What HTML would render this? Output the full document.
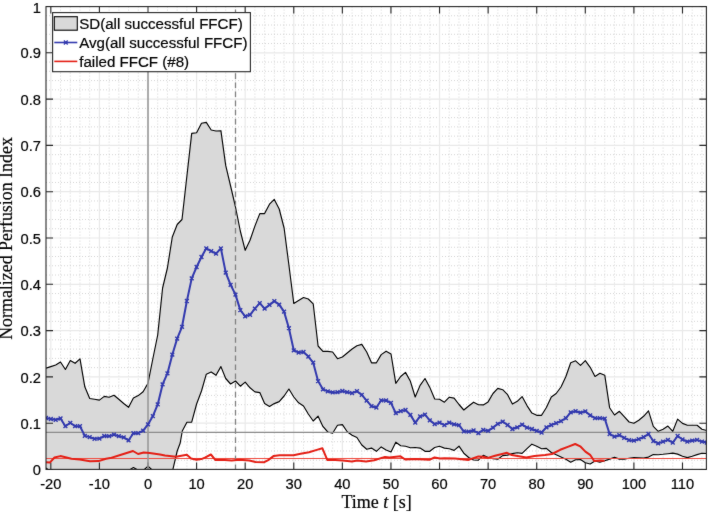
<!DOCTYPE html><html><head><meta charset="utf-8"><style>html,body{margin:0;padding:0;background:#fff;}body{width:709px;height:512px;overflow:hidden;position:relative;}#w{position:absolute;left:0;top:0;width:709px;height:512px;}svg{display:block;}text{font-family:"Liberation Sans",sans-serif;stroke:#000;stroke-width:0.2px;}.tl{font-size:14.7px;fill:#000;}.lg{font-size:15.1px;fill:#000;}.serif{font-family:"Liberation Serif",serif;}</style></head><body>
<div id="w"><svg width="709" height="512" viewBox="0 0 709 512">
<defs><filter id="bl" x="0" y="0" width="1" height="1" color-interpolation-filters="sRGB"><feConvolveMatrix order="3" kernelMatrix="1 2 1 2 36 2 1 2 1" edgeMode="duplicate"/></filter><clipPath id="ax"><rect x="46" y="6.6" width="660.4" height="462.8"/></clipPath></defs>
<g filter="url(#bl)"><rect width="709" height="512" fill="#fff"/>
<g style="stroke-width:1">
<style>.mn{stroke:#cacaca;stroke-dasharray:1 2;stroke-width:0.8}.mj{stroke:#e9e9e9;stroke-width:1.2}</style>
<line x1="60.54" y1="6.6" x2="60.54" y2="469.4" class="mn"/>
<line x1="70.26" y1="6.6" x2="70.26" y2="469.4" class="mn"/>
<line x1="79.97" y1="6.6" x2="79.97" y2="469.4" class="mn"/>
<line x1="89.69" y1="6.6" x2="89.69" y2="469.4" class="mn"/>
<line x1="109.13" y1="6.6" x2="109.13" y2="469.4" class="mn"/>
<line x1="118.85" y1="6.6" x2="118.85" y2="469.4" class="mn"/>
<line x1="128.56" y1="6.6" x2="128.56" y2="469.4" class="mn"/>
<line x1="138.28" y1="6.6" x2="138.28" y2="469.4" class="mn"/>
<line x1="157.72" y1="6.6" x2="157.72" y2="469.4" class="mn"/>
<line x1="167.44" y1="6.6" x2="167.44" y2="469.4" class="mn"/>
<line x1="177.15" y1="6.6" x2="177.15" y2="469.4" class="mn"/>
<line x1="186.87" y1="6.6" x2="186.87" y2="469.4" class="mn"/>
<line x1="206.31" y1="6.6" x2="206.31" y2="469.4" class="mn"/>
<line x1="216.03" y1="6.6" x2="216.03" y2="469.4" class="mn"/>
<line x1="225.74" y1="6.6" x2="225.74" y2="469.4" class="mn"/>
<line x1="235.46" y1="6.6" x2="235.46" y2="469.4" class="mn"/>
<line x1="254.9" y1="6.6" x2="254.9" y2="469.4" class="mn"/>
<line x1="264.62" y1="6.6" x2="264.62" y2="469.4" class="mn"/>
<line x1="274.33" y1="6.6" x2="274.33" y2="469.4" class="mn"/>
<line x1="284.05" y1="6.6" x2="284.05" y2="469.4" class="mn"/>
<line x1="303.49" y1="6.6" x2="303.49" y2="469.4" class="mn"/>
<line x1="313.21" y1="6.6" x2="313.21" y2="469.4" class="mn"/>
<line x1="322.92" y1="6.6" x2="322.92" y2="469.4" class="mn"/>
<line x1="332.64" y1="6.6" x2="332.64" y2="469.4" class="mn"/>
<line x1="352.08" y1="6.6" x2="352.08" y2="469.4" class="mn"/>
<line x1="361.8" y1="6.6" x2="361.8" y2="469.4" class="mn"/>
<line x1="371.51" y1="6.6" x2="371.51" y2="469.4" class="mn"/>
<line x1="381.23" y1="6.6" x2="381.23" y2="469.4" class="mn"/>
<line x1="400.67" y1="6.6" x2="400.67" y2="469.4" class="mn"/>
<line x1="410.39" y1="6.6" x2="410.39" y2="469.4" class="mn"/>
<line x1="420.1" y1="6.6" x2="420.1" y2="469.4" class="mn"/>
<line x1="429.82" y1="6.6" x2="429.82" y2="469.4" class="mn"/>
<line x1="449.26" y1="6.6" x2="449.26" y2="469.4" class="mn"/>
<line x1="458.98" y1="6.6" x2="458.98" y2="469.4" class="mn"/>
<line x1="468.69" y1="6.6" x2="468.69" y2="469.4" class="mn"/>
<line x1="478.41" y1="6.6" x2="478.41" y2="469.4" class="mn"/>
<line x1="497.85" y1="6.6" x2="497.85" y2="469.4" class="mn"/>
<line x1="507.57" y1="6.6" x2="507.57" y2="469.4" class="mn"/>
<line x1="517.28" y1="6.6" x2="517.28" y2="469.4" class="mn"/>
<line x1="527" y1="6.6" x2="527" y2="469.4" class="mn"/>
<line x1="546.44" y1="6.6" x2="546.44" y2="469.4" class="mn"/>
<line x1="556.16" y1="6.6" x2="556.16" y2="469.4" class="mn"/>
<line x1="565.87" y1="6.6" x2="565.87" y2="469.4" class="mn"/>
<line x1="575.59" y1="6.6" x2="575.59" y2="469.4" class="mn"/>
<line x1="595.03" y1="6.6" x2="595.03" y2="469.4" class="mn"/>
<line x1="604.75" y1="6.6" x2="604.75" y2="469.4" class="mn"/>
<line x1="614.46" y1="6.6" x2="614.46" y2="469.4" class="mn"/>
<line x1="624.18" y1="6.6" x2="624.18" y2="469.4" class="mn"/>
<line x1="643.62" y1="6.6" x2="643.62" y2="469.4" class="mn"/>
<line x1="653.34" y1="6.6" x2="653.34" y2="469.4" class="mn"/>
<line x1="663.05" y1="6.6" x2="663.05" y2="469.4" class="mn"/>
<line x1="672.77" y1="6.6" x2="672.77" y2="469.4" class="mn"/>
<line x1="692.21" y1="6.6" x2="692.21" y2="469.4" class="mn"/>
<line x1="701.93" y1="6.6" x2="701.93" y2="469.4" class="mn"/>
<line x1="46" y1="460.24" x2="706.4" y2="460.24" class="mn"/>
<line x1="46" y1="450.98" x2="706.4" y2="450.98" class="mn"/>
<line x1="46" y1="441.72" x2="706.4" y2="441.72" class="mn"/>
<line x1="46" y1="432.46" x2="706.4" y2="432.46" class="mn"/>
<line x1="46" y1="413.94" x2="706.4" y2="413.94" class="mn"/>
<line x1="46" y1="404.68" x2="706.4" y2="404.68" class="mn"/>
<line x1="46" y1="395.42" x2="706.4" y2="395.42" class="mn"/>
<line x1="46" y1="386.16" x2="706.4" y2="386.16" class="mn"/>
<line x1="46" y1="367.64" x2="706.4" y2="367.64" class="mn"/>
<line x1="46" y1="358.38" x2="706.4" y2="358.38" class="mn"/>
<line x1="46" y1="349.12" x2="706.4" y2="349.12" class="mn"/>
<line x1="46" y1="339.86" x2="706.4" y2="339.86" class="mn"/>
<line x1="46" y1="321.34" x2="706.4" y2="321.34" class="mn"/>
<line x1="46" y1="312.08" x2="706.4" y2="312.08" class="mn"/>
<line x1="46" y1="302.82" x2="706.4" y2="302.82" class="mn"/>
<line x1="46" y1="293.56" x2="706.4" y2="293.56" class="mn"/>
<line x1="46" y1="275.04" x2="706.4" y2="275.04" class="mn"/>
<line x1="46" y1="265.78" x2="706.4" y2="265.78" class="mn"/>
<line x1="46" y1="256.52" x2="706.4" y2="256.52" class="mn"/>
<line x1="46" y1="247.26" x2="706.4" y2="247.26" class="mn"/>
<line x1="46" y1="228.74" x2="706.4" y2="228.74" class="mn"/>
<line x1="46" y1="219.48" x2="706.4" y2="219.48" class="mn"/>
<line x1="46" y1="210.22" x2="706.4" y2="210.22" class="mn"/>
<line x1="46" y1="200.96" x2="706.4" y2="200.96" class="mn"/>
<line x1="46" y1="182.44" x2="706.4" y2="182.44" class="mn"/>
<line x1="46" y1="173.18" x2="706.4" y2="173.18" class="mn"/>
<line x1="46" y1="163.92" x2="706.4" y2="163.92" class="mn"/>
<line x1="46" y1="154.66" x2="706.4" y2="154.66" class="mn"/>
<line x1="46" y1="136.14" x2="706.4" y2="136.14" class="mn"/>
<line x1="46" y1="126.88" x2="706.4" y2="126.88" class="mn"/>
<line x1="46" y1="117.62" x2="706.4" y2="117.62" class="mn"/>
<line x1="46" y1="108.36" x2="706.4" y2="108.36" class="mn"/>
<line x1="46" y1="89.84" x2="706.4" y2="89.84" class="mn"/>
<line x1="46" y1="80.58" x2="706.4" y2="80.58" class="mn"/>
<line x1="46" y1="71.32" x2="706.4" y2="71.32" class="mn"/>
<line x1="46" y1="62.06" x2="706.4" y2="62.06" class="mn"/>
<line x1="46" y1="43.54" x2="706.4" y2="43.54" class="mn"/>
<line x1="46" y1="34.28" x2="706.4" y2="34.28" class="mn"/>
<line x1="46" y1="25.02" x2="706.4" y2="25.02" class="mn"/>
<line x1="46" y1="15.76" x2="706.4" y2="15.76" class="mn"/>
<line x1="50.82" y1="6.6" x2="50.82" y2="469.4" class="mj"/>
<line x1="99.41" y1="6.6" x2="99.41" y2="469.4" class="mj"/>
<line x1="148" y1="6.6" x2="148" y2="469.4" class="mj"/>
<line x1="196.59" y1="6.6" x2="196.59" y2="469.4" class="mj"/>
<line x1="245.18" y1="6.6" x2="245.18" y2="469.4" class="mj"/>
<line x1="293.77" y1="6.6" x2="293.77" y2="469.4" class="mj"/>
<line x1="342.36" y1="6.6" x2="342.36" y2="469.4" class="mj"/>
<line x1="390.95" y1="6.6" x2="390.95" y2="469.4" class="mj"/>
<line x1="439.54" y1="6.6" x2="439.54" y2="469.4" class="mj"/>
<line x1="488.13" y1="6.6" x2="488.13" y2="469.4" class="mj"/>
<line x1="536.72" y1="6.6" x2="536.72" y2="469.4" class="mj"/>
<line x1="585.31" y1="6.6" x2="585.31" y2="469.4" class="mj"/>
<line x1="633.9" y1="6.6" x2="633.9" y2="469.4" class="mj"/>
<line x1="682.49" y1="6.6" x2="682.49" y2="469.4" class="mj"/>
<line x1="46" y1="469.5" x2="706.4" y2="469.5" class="mj"/>
<line x1="46" y1="423.2" x2="706.4" y2="423.2" class="mj"/>
<line x1="46" y1="376.9" x2="706.4" y2="376.9" class="mj"/>
<line x1="46" y1="330.6" x2="706.4" y2="330.6" class="mj"/>
<line x1="46" y1="284.3" x2="706.4" y2="284.3" class="mj"/>
<line x1="46" y1="238" x2="706.4" y2="238" class="mj"/>
<line x1="46" y1="191.7" x2="706.4" y2="191.7" class="mj"/>
<line x1="46" y1="145.4" x2="706.4" y2="145.4" class="mj"/>
<line x1="46" y1="99.1" x2="706.4" y2="99.1" class="mj"/>
<line x1="46" y1="52.8" x2="706.4" y2="52.8" class="mj"/>
<line x1="46" y1="6.5" x2="706.4" y2="6.5" class="mj"/>
</g>
<g clip-path="url(#ax)">
<polygon points="46,368.2 50.8,366.6 55.7,365 60.5,362 65.4,369.5 70.3,360.4 75.1,363.3 80,358.9 84.8,386.8 89.7,398.5 94.5,399.3 99.4,400.1 104.3,396.4 109.1,397.2 114,395.3 118.8,399.3 123.7,403.5 128.6,407.3 133.4,398 138.3,395.6 143.1,391.7 148,383.2 152.9,358.5 157.7,335 162.6,288 167.4,268 172.3,237 177.2,224.5 182,219.5 186.9,176 191.7,133.4 196.6,132.7 201.5,123.2 206.3,122.4 211.2,130 216,131 220.9,130.7 225.7,165.4 230.6,186 235.5,207 240.3,231 245.2,250.3 250,240.2 254.9,226.1 259.8,213.6 264.6,213.6 269.5,204.2 274.3,199.4 279.2,209 284.1,228 288.9,265 293.8,303.5 298.6,300.5 303.5,297.5 308.3,299 313.2,303.8 318.1,346 322.9,351.4 327.8,351.4 332.6,352 337.5,358.7 342.4,357 347.2,353 352.1,349 356.9,345.7 361.8,344.4 366.7,352 371.5,362.8 376.4,362.8 381.2,354.6 386.1,351.2 391,354 395.8,383.3 400.7,376.5 405.5,372.4 410.4,381.3 415.2,397 420.1,385.4 425,378.5 429.8,387.4 434.7,399 439.5,399.3 444.4,402.2 449.3,397.2 454.1,398.1 459,404.5 463.8,410 468.7,406 473.6,402.2 478.4,404.7 483.3,404.9 488.1,401.9 493,393.5 497.8,388.4 502.7,389.7 507.6,394.7 512.4,404.1 517.3,401.3 522.1,396.6 527,405.6 531.9,413.1 536.7,415.3 541.6,415.3 546.4,407.5 551.3,397 556.2,393.5 561,387 565.9,376.5 570.7,362.7 575.6,360.8 580.5,365.3 585.3,360.6 590.2,367.3 595,376.4 599.9,373.3 604.8,375.3 609.6,407.7 614.5,415 619.4,411.3 624.2,416.6 629.1,422 633.9,423.3 638.8,420.2 643.6,416.3 648.5,410.8 653.3,426.4 658.2,431.3 663.1,429.3 667.9,426.1 672.8,431.3 677.6,419.1 682.5,423.4 687.4,425.2 692.2,425.2 697.1,425.2 701.9,429.3 706.8,430.5 706.8,453.5 701.9,453.3 697.1,454.6 692.2,456.2 687.4,457.6 682.5,456.2 677.6,454.1 672.8,453.1 667.9,453.7 663.1,454.3 658.2,454.8 653.3,454.6 648.5,457.1 643.6,458 638.8,457.8 633.9,457.5 629.1,458.3 624.2,459.2 619.4,459.1 614.5,457.4 609.6,459.1 604.8,460.8 599.9,462.2 595,461 590.2,464 585.3,462.7 580.5,459.6 575.6,459.8 570.7,462.2 565.9,459.3 561,457 556.2,454.7 551.3,452.5 546.4,448.4 541.6,448.7 536.7,446.3 531.9,444.2 527,448.7 522.1,453.4 517.3,452.8 512.4,453.6 507.6,455.1 502.7,455.6 497.8,459.2 493,458.8 488.1,457.6 483.3,455.3 478.4,460.2 473.6,460 468.7,457.5 463.8,453.2 459,446.2 454.1,450.4 449.3,448.7 444.4,448.1 439.5,446.3 434.7,447.5 429.8,451.3 425,451.3 420.1,448.1 415.2,447.5 410.4,447.7 405.5,446.3 400.7,445.7 395.8,442.2 391,452 386.1,450 381.2,446.9 376.4,451.3 371.5,448.1 366.7,449.3 361.8,445 356.9,437.5 352.1,435.2 347.2,431.7 342.4,424.6 337.5,425.2 332.6,433.2 327.8,432 322.9,426.4 318.1,416.2 313.2,421 308.3,414 303.5,406 298.6,402.8 293.8,397 288.9,389 284.1,396 279.2,401.6 274.3,403.6 269.5,406.5 264.6,403.6 259.8,392.6 254.9,391.9 250,387.8 245.2,382.1 240.3,386.2 235.5,381 230.6,384 225.7,378.5 220.9,366.6 216,375.3 211.2,372 206.3,374.2 201.5,391 196.6,404 191.7,422.2 186.9,422.2 182.3,431 180.2,443 177.2,451 172.3,472 167.4,492 162.6,495 157.7,480 152.9,470.6 148,466.2 143.1,470.6 138.3,470.3 133.4,467.6 128.6,470.4 123.7,476 110,480 90,482 70,482 60.5,480 55.7,478 50.8,472 46,468" fill="#d9d9d9" stroke="none"/>
<polyline points="46,368.2 50.8,366.6 55.7,365 60.5,362 65.4,369.5 70.3,360.4 75.1,363.3 80,358.9 84.8,386.8 89.7,398.5 94.5,399.3 99.4,400.1 104.3,396.4 109.1,397.2 114,395.3 118.8,399.3 123.7,403.5 128.6,407.3 133.4,398 138.3,395.6 143.1,391.7 148,383.2 152.9,358.5 157.7,335 162.6,288 167.4,268 172.3,237 177.2,224.5 182,219.5 186.9,176 191.7,133.4 196.6,132.7 201.5,123.2 206.3,122.4 211.2,130 216,131 220.9,130.7 225.7,165.4 230.6,186 235.5,207 240.3,231 245.2,250.3 250,240.2 254.9,226.1 259.8,213.6 264.6,213.6 269.5,204.2 274.3,199.4 279.2,209 284.1,228 288.9,265 293.8,303.5 298.6,300.5 303.5,297.5 308.3,299 313.2,303.8 318.1,346 322.9,351.4 327.8,351.4 332.6,352 337.5,358.7 342.4,357 347.2,353 352.1,349 356.9,345.7 361.8,344.4 366.7,352 371.5,362.8 376.4,362.8 381.2,354.6 386.1,351.2 391,354 395.8,383.3 400.7,376.5 405.5,372.4 410.4,381.3 415.2,397 420.1,385.4 425,378.5 429.8,387.4 434.7,399 439.5,399.3 444.4,402.2 449.3,397.2 454.1,398.1 459,404.5 463.8,410 468.7,406 473.6,402.2 478.4,404.7 483.3,404.9 488.1,401.9 493,393.5 497.8,388.4 502.7,389.7 507.6,394.7 512.4,404.1 517.3,401.3 522.1,396.6 527,405.6 531.9,413.1 536.7,415.3 541.6,415.3 546.4,407.5 551.3,397 556.2,393.5 561,387 565.9,376.5 570.7,362.7 575.6,360.8 580.5,365.3 585.3,360.6 590.2,367.3 595,376.4 599.9,373.3 604.8,375.3 609.6,407.7 614.5,415 619.4,411.3 624.2,416.6 629.1,422 633.9,423.3 638.8,420.2 643.6,416.3 648.5,410.8 653.3,426.4 658.2,431.3 663.1,429.3 667.9,426.1 672.8,431.3 677.6,419.1 682.5,423.4 687.4,425.2 692.2,425.2 697.1,425.2 701.9,429.3 706.8,430.5" fill="none" stroke="#000000" stroke-width="1.15" stroke-linejoin="round"/>
<polyline points="46,468 50.8,472 55.7,478 60.5,480 70,482 90,482 110,480 123.7,476 128.6,470.4 133.4,467.6 138.3,470.3 143.1,470.6 148,466.2 152.9,470.6 157.7,480 162.6,495 167.4,492 172.3,472 177.2,451 180.2,443 182.3,431 186.9,422.2 191.7,422.2 196.6,404 201.5,391 206.3,374.2 211.2,372 216,375.3 220.9,366.6 225.7,378.5 230.6,384 235.5,381 240.3,386.2 245.2,382.1 250,387.8 254.9,391.9 259.8,392.6 264.6,403.6 269.5,406.5 274.3,403.6 279.2,401.6 284.1,396 288.9,389 293.8,397 298.6,402.8 303.5,406 308.3,414 313.2,421 318.1,416.2 322.9,426.4 327.8,432 332.6,433.2 337.5,425.2 342.4,424.6 347.2,431.7 352.1,435.2 356.9,437.5 361.8,445 366.7,449.3 371.5,448.1 376.4,451.3 381.2,446.9 386.1,450 391,452 395.8,442.2 400.7,445.7 405.5,446.3 410.4,447.7 415.2,447.5 420.1,448.1 425,451.3 429.8,451.3 434.7,447.5 439.5,446.3 444.4,448.1 449.3,448.7 454.1,450.4 459,446.2 463.8,453.2 468.7,457.5 473.6,460 478.4,460.2 483.3,455.3 488.1,457.6 493,458.8 497.8,459.2 502.7,455.6 507.6,455.1 512.4,453.6 517.3,452.8 522.1,453.4 527,448.7 531.9,444.2 536.7,446.3 541.6,448.7 546.4,448.4 551.3,452.5 556.2,454.7 561,457 565.9,459.3 570.7,462.2 575.6,459.8 580.5,459.6 585.3,462.7 590.2,464 595,461 599.9,462.2 604.8,460.8 609.6,459.1 614.5,457.4 619.4,459.1 624.2,459.2 629.1,458.3 633.9,457.5 638.8,457.8 643.6,458 648.5,457.1 653.3,454.6 658.2,454.8 663.1,454.3 667.9,453.7 672.8,453.1 677.6,454.1 682.5,456.2 687.4,457.6 692.2,456.2 697.1,454.6 701.9,453.3 706.8,453.5" fill="none" stroke="#000000" stroke-width="1.15" stroke-linejoin="round"/>
<line x1="46" y1="432.3" x2="706.4" y2="432.3" stroke="#8a8a8a" stroke-width="1.2"/>
<line x1="46" y1="458.5" x2="706.4" y2="458.5" stroke="#f04c40" stroke-width="1.1"/>
</g>
<path d="M50.82 469.4V462.4M50.82 6.6V13.6M99.41 469.4V462.4M99.41 6.6V13.6M148 469.4V462.4M148 6.6V13.6M196.59 469.4V462.4M196.59 6.6V13.6M245.18 469.4V462.4M245.18 6.6V13.6M293.77 469.4V462.4M293.77 6.6V13.6M342.36 469.4V462.4M342.36 6.6V13.6M390.95 469.4V462.4M390.95 6.6V13.6M439.54 469.4V462.4M439.54 6.6V13.6M488.13 469.4V462.4M488.13 6.6V13.6M536.72 469.4V462.4M536.72 6.6V13.6M585.31 469.4V462.4M585.31 6.6V13.6M633.9 469.4V462.4M633.9 6.6V13.6M682.49 469.4V462.4M682.49 6.6V13.6M46 469.5H53M706.4 469.5H699.4M46 423.2H53M706.4 423.2H699.4M46 376.9H53M706.4 376.9H699.4M46 330.6H53M706.4 330.6H699.4M46 284.3H53M706.4 284.3H699.4M46 238H53M706.4 238H699.4M46 191.7H53M706.4 191.7H699.4M46 145.4H53M706.4 145.4H699.4M46 99.1H53M706.4 99.1H699.4M46 52.8H53M706.4 52.8H699.4M46 6.5H53M706.4 6.5H699.4" stroke="#262626" stroke-width="1.1" fill="none"/>
<g clip-path="url(#ax)">
<line x1="148" y1="6.6" x2="148" y2="469.4" stroke="#999999" stroke-width="1.6"/>
<line x1="235.5" y1="469.4" x2="235.5" y2="6.6" stroke="#808080" stroke-width="1.3" stroke-dasharray="5.6 3.5" stroke-dashoffset="0.8"/>
<polyline points="45.96,418 50.82,419 55.68,419.8 60.54,418.5 65.4,426.2 70.26,422.8 75.11,426.2 79.97,426.2 84.83,435.9 89.69,437.1 94.55,438.8 99.41,438.6 104.27,436 109.13,436.2 113.99,434.7 118.85,436.2 123.7,437.3 128.56,440.3 133.42,433.2 138.28,433.2 143.14,430.7 148,424.4 152.86,416.1 157.72,404.4 162.58,384.4 167.44,373.4 172.3,354.7 177.15,338.6 182.01,326.8 186.87,301 191.73,278.4 196.59,267 201.45,257 206.31,248.3 211.17,251.1 216.03,253.7 220.88,248.3 225.74,272.6 230.6,284.8 235.46,294.6 240.32,310.1 245.18,316.3 250.04,314.8 254.9,308.7 259.76,303.2 264.62,308.7 269.48,304.9 274.33,301.1 279.19,304.6 284.05,311.6 288.91,328.2 293.77,350.3 298.63,352.5 303.49,352 308.35,356.6 313.21,362.7 318.06,381.1 322.92,389.3 327.78,391.3 332.64,392.4 337.5,392.2 342.36,391 347.22,392.2 352.08,393.1 356.94,391.2 361.8,394.9 366.65,400.7 371.51,406.2 376.37,407.5 381.23,400.3 386.09,400.5 390.95,402.9 395.81,413.2 400.67,411.1 405.53,410 410.39,414.9 415.25,422.7 420.1,416.4 424.96,414.7 429.82,420.3 434.68,424.1 439.54,422.7 444.4,425.2 449.26,422.7 454.12,424.3 458.98,425.2 463.83,431.3 468.69,431.7 473.55,430.5 478.41,433.2 483.27,429.9 488.13,430.9 492.99,427.6 497.85,423.8 502.71,421.7 507.57,425 512.42,429 517.28,427.3 522.14,424.6 527,427.6 531.86,429 536.72,430.9 541.58,432.5 546.44,427.3 551.3,425 556.16,423.1 561.01,421.1 565.87,418.2 570.73,412.3 575.59,411.2 580.45,412.6 585.31,411.4 590.17,415.3 595.03,418.2 599.89,418.2 604.75,418.6 609.61,434 614.46,436.7 619.32,435.2 624.18,437.9 629.04,440.2 633.9,440.7 638.76,439.1 643.62,437.2 648.48,434 653.34,441 658.19,443.4 663.05,441.6 667.91,439.9 672.77,442.6 677.63,436 682.49,439.5 687.35,441.6 692.21,440.7 697.07,439.9 701.93,441.6 706.78,442.6" fill="none" stroke="#3239ae" stroke-width="2" stroke-linejoin="round"/>
<path d="M44.06 416.1L47.86 419.9M44.06 419.9L47.86 416.1M48.92 417.1L52.72 420.9M48.92 420.9L52.72 417.1M53.78 417.9L57.58 421.7M53.78 421.7L57.58 417.9M58.64 416.6L62.44 420.4M58.64 420.4L62.44 416.6M63.5 424.3L67.3 428.1M63.5 428.1L67.3 424.3M68.36 420.9L72.16 424.7M68.36 424.7L72.16 420.9M73.21 424.3L77.02 428.1M73.21 428.1L77.02 424.3M78.07 424.3L81.87 428.1M78.07 428.1L81.87 424.3M82.93 434L86.73 437.8M82.93 437.8L86.73 434M87.79 435.2L91.59 439M87.79 439L91.59 435.2M92.65 436.9L96.45 440.7M92.65 440.7L96.45 436.9M97.51 436.7L101.31 440.5M97.51 440.5L101.31 436.7M102.37 434.1L106.17 437.9M102.37 437.9L106.17 434.1M107.23 434.3L111.03 438.1M107.23 438.1L111.03 434.3M112.09 432.8L115.89 436.6M112.09 436.6L115.89 432.8M116.95 434.3L120.75 438.1M116.95 438.1L120.75 434.3M121.8 435.4L125.61 439.2M121.8 439.2L125.61 435.4M126.66 438.4L130.46 442.2M126.66 442.2L130.46 438.4M131.52 431.3L135.32 435.1M131.52 435.1L135.32 431.3M136.38 431.3L140.18 435.1M136.38 435.1L140.18 431.3M141.24 428.8L145.04 432.6M141.24 432.6L145.04 428.8M146.1 422.5L149.9 426.3M146.1 426.3L149.9 422.5M150.96 414.2L154.76 418M150.96 418L154.76 414.2M155.82 402.5L159.62 406.3M155.82 406.3L159.62 402.5M160.68 382.5L164.48 386.3M160.68 386.3L164.48 382.5M165.54 371.5L169.34 375.3M165.54 375.3L169.34 371.5M170.4 352.8L174.2 356.6M170.4 356.6L174.2 352.8M175.25 336.7L179.05 340.5M175.25 340.5L179.05 336.7M180.11 324.9L183.91 328.7M180.11 328.7L183.91 324.9M184.97 299.1L188.77 302.9M184.97 302.9L188.77 299.1M189.83 276.5L193.63 280.3M189.83 280.3L193.63 276.5M194.69 265.1L198.49 268.9M194.69 268.9L198.49 265.1M199.55 255.1L203.35 258.9M199.55 258.9L203.35 255.1M204.41 246.4L208.21 250.2M204.41 250.2L208.21 246.4M209.27 249.2L213.07 253M209.27 253L213.07 249.2M214.13 251.8L217.93 255.6M214.13 255.6L217.93 251.8M218.98 246.4L222.78 250.2M218.98 250.2L222.78 246.4M223.84 270.7L227.64 274.5M223.84 274.5L227.64 270.7M228.7 282.9L232.5 286.7M228.7 286.7L232.5 282.9M233.56 292.7L237.36 296.5M233.56 296.5L237.36 292.7M238.42 308.2L242.22 312M238.42 312L242.22 308.2M243.28 314.4L247.08 318.2M243.28 318.2L247.08 314.4M248.14 312.9L251.94 316.7M248.14 316.7L251.94 312.9M253 306.8L256.8 310.6M253 310.6L256.8 306.8M257.86 301.3L261.66 305.1M257.86 305.1L261.66 301.3M262.72 306.8L266.52 310.6M262.72 310.6L266.52 306.8M267.58 303L271.38 306.8M267.58 306.8L271.38 303M272.43 299.2L276.23 303M272.43 303L276.23 299.2M277.29 302.7L281.09 306.5M277.29 306.5L281.09 302.7M282.15 309.7L285.95 313.5M282.15 313.5L285.95 309.7M287.01 326.3L290.81 330.1M287.01 330.1L290.81 326.3M291.87 348.4L295.67 352.2M291.87 352.2L295.67 348.4M296.73 350.6L300.53 354.4M296.73 354.4L300.53 350.6M301.59 350.1L305.39 353.9M301.59 353.9L305.39 350.1M306.45 354.7L310.25 358.5M306.45 358.5L310.25 354.7M311.31 360.8L315.11 364.6M311.31 364.6L315.11 360.8M316.17 379.2L319.96 383M316.17 383L319.96 379.2M321.02 387.4L324.82 391.2M321.02 391.2L324.82 387.4M325.88 389.4L329.68 393.2M325.88 393.2L329.68 389.4M330.74 390.5L334.54 394.3M330.74 394.3L334.54 390.5M335.6 390.3L339.4 394.1M335.6 394.1L339.4 390.3M340.46 389.1L344.26 392.9M340.46 392.9L344.26 389.1M345.32 390.3L349.12 394.1M345.32 394.1L349.12 390.3M350.18 391.2L353.98 395M350.18 395L353.98 391.2M355.04 389.3L358.84 393.1M355.04 393.1L358.84 389.3M359.9 393L363.7 396.8M359.9 396.8L363.7 393M364.75 398.8L368.55 402.6M364.75 402.6L368.55 398.8M369.61 404.3L373.41 408.1M369.61 408.1L373.41 404.3M374.47 405.6L378.27 409.4M374.47 409.4L378.27 405.6M379.33 398.4L383.13 402.2M379.33 402.2L383.13 398.4M384.19 398.6L387.99 402.4M384.19 402.4L387.99 398.6M389.05 401L392.85 404.8M389.05 404.8L392.85 401M393.91 411.3L397.71 415.1M393.91 415.1L397.71 411.3M398.77 409.2L402.57 413M398.77 413L402.57 409.2M403.63 408.1L407.43 411.9M403.63 411.9L407.43 408.1M408.49 413L412.29 416.8M408.49 416.8L412.29 413M413.35 420.8L417.14 424.6M413.35 424.6L417.14 420.8M418.2 414.5L422 418.3M418.2 418.3L422 414.5M423.06 412.8L426.86 416.6M423.06 416.6L426.86 412.8M427.92 418.4L431.72 422.2M427.92 422.2L431.72 418.4M432.78 422.2L436.58 426M432.78 426L436.58 422.2M437.64 420.8L441.44 424.6M437.64 424.6L441.44 420.8M442.5 423.3L446.3 427.1M442.5 427.1L446.3 423.3M447.36 420.8L451.16 424.6M447.36 424.6L451.16 420.8M452.22 422.4L456.02 426.2M452.22 426.2L456.02 422.4M457.08 423.3L460.88 427.1M457.08 427.1L460.88 423.3M461.94 429.4L465.73 433.2M461.94 433.2L465.73 429.4M466.79 429.8L470.59 433.6M466.79 433.6L470.59 429.8M471.65 428.6L475.45 432.4M471.65 432.4L475.45 428.6M476.51 431.3L480.31 435.1M476.51 435.1L480.31 431.3M481.37 428L485.17 431.8M481.37 431.8L485.17 428M486.23 429L490.03 432.8M486.23 432.8L490.03 429M491.09 425.7L494.89 429.5M491.09 429.5L494.89 425.7M495.95 421.9L499.75 425.7M495.95 425.7L499.75 421.9M500.81 419.8L504.61 423.6M500.81 423.6L504.61 419.8M505.67 423.1L509.47 426.9M505.67 426.9L509.47 423.1M510.52 427.1L514.32 430.9M510.52 430.9L514.32 427.1M515.38 425.4L519.18 429.2M515.38 429.2L519.18 425.4M520.24 422.7L524.04 426.5M520.24 426.5L524.04 422.7M525.1 425.7L528.9 429.5M525.1 429.5L528.9 425.7M529.96 427.1L533.76 430.9M529.96 430.9L533.76 427.1M534.82 429L538.62 432.8M534.82 432.8L538.62 429M539.68 430.6L543.48 434.4M539.68 434.4L543.48 430.6M544.54 425.4L548.34 429.2M544.54 429.2L548.34 425.4M549.4 423.1L553.2 426.9M549.4 426.9L553.2 423.1M554.26 421.2L558.06 425M554.26 425L558.06 421.2M559.12 419.2L562.91 423M559.12 423L562.91 419.2M563.97 416.3L567.77 420.1M563.97 420.1L567.77 416.3M568.83 410.4L572.63 414.2M568.83 414.2L572.63 410.4M573.69 409.3L577.49 413.1M573.69 413.1L577.49 409.3M578.55 410.7L582.35 414.5M578.55 414.5L582.35 410.7M583.41 409.5L587.21 413.3M583.41 413.3L587.21 409.5M588.27 413.4L592.07 417.2M588.27 417.2L592.07 413.4M593.13 416.3L596.93 420.1M593.13 420.1L596.93 416.3M597.99 416.3L601.79 420.1M597.99 420.1L601.79 416.3M602.85 416.7L606.65 420.5M602.85 420.5L606.65 416.7M607.71 432.1L611.5 435.9M607.71 435.9L611.5 432.1M612.56 434.8L616.36 438.6M612.56 438.6L616.36 434.8M617.42 433.3L621.22 437.1M617.42 437.1L621.22 433.3M622.28 436L626.08 439.8M622.28 439.8L626.08 436M627.14 438.3L630.94 442.1M627.14 442.1L630.94 438.3M632 438.8L635.8 442.6M632 442.6L635.8 438.8M636.86 437.2L640.66 441M636.86 441L640.66 437.2M641.72 435.3L645.52 439.1M641.72 439.1L645.52 435.3M646.58 432.1L650.38 435.9M646.58 435.9L650.38 432.1M651.44 439.1L655.24 442.9M651.44 442.9L655.24 439.1M656.29 441.5L660.09 445.3M656.29 445.3L660.09 441.5M661.15 439.7L664.95 443.5M661.15 443.5L664.95 439.7M666.01 438L669.81 441.8M666.01 441.8L669.81 438M670.87 440.7L674.67 444.5M670.87 444.5L674.67 440.7M675.73 434.1L679.53 437.9M675.73 437.9L679.53 434.1M680.59 437.6L684.39 441.4M680.59 441.4L684.39 437.6M685.45 439.7L689.25 443.5M685.45 443.5L689.25 439.7M690.31 438.8L694.11 442.6M690.31 442.6L694.11 438.8M695.17 438L698.97 441.8M695.17 441.8L698.97 438M700.03 439.7L703.83 443.5M700.03 443.5L703.83 439.7M704.88 440.7L708.68 444.5M704.88 444.5L708.68 440.7" stroke="#3239ae" stroke-width="1.4" fill="none"/>
<polyline points="46,462.3 49.8,462.6 54.5,457.5 60.4,456.1 65.5,457.2 71.4,458.8 79.8,459.6 90,461.3 98.5,461.1 106,458.8 110.2,458.1 120.3,455 133,451 138.1,454 143.7,452.5 149.7,453 160,454.5 165,455.5 175.9,456.7 186.8,454.8 191.1,458.5 196.5,459.7 201.4,459.1 204.9,457.6 210.9,454.5 215.5,460.1 224.7,460.1 231.7,460.5 239.5,459.7 249.2,460.5 255.5,461.9 264.3,462.2 268.2,460.1 273.8,455.9 279.5,455.2 290,455.2 293.5,455.2 300.6,453.8 309,452.3 316.8,449.9 322.4,448.3 327.4,460.1 335.1,460.1 342.6,460.6 352,461.6 357.2,460.6 366,461.6 374.2,460.2 385,456.9 389.4,457.5 400.5,456.3 405.2,459.5 415.2,459 429.2,459.8 434.5,457.5 440,458.6 444.4,458.3 455,458.4 468.5,459.9 478.4,456.4 483.1,456.7 487.8,457.9 495,455.8 507,452.8 511.7,455.1 526.3,457.5 534.5,455.9 545.1,455.1 552,454 560.2,449.8 568.4,446.6 575.2,444 580.2,446.3 585.4,451.6 590.1,454.8 594.2,461 600.2,460.5 604.6,460.8" fill="none" stroke="#e41e14" stroke-width="2" stroke-linejoin="round"/>
</g>
<rect x="46" y="6.6" width="660.4" height="462.8" fill="none" stroke="#262626" stroke-width="1.1"/>
<text class="tl" x="50.82" y="489" text-anchor="middle">-20</text>
<text class="tl" x="99.41" y="489" text-anchor="middle">-10</text>
<text class="tl" x="148" y="489" text-anchor="middle">0</text>
<text class="tl" x="196.59" y="489" text-anchor="middle">10</text>
<text class="tl" x="245.18" y="489" text-anchor="middle">20</text>
<text class="tl" x="293.77" y="489" text-anchor="middle">30</text>
<text class="tl" x="342.36" y="489" text-anchor="middle">40</text>
<text class="tl" x="390.95" y="489" text-anchor="middle">50</text>
<text class="tl" x="439.54" y="489" text-anchor="middle">60</text>
<text class="tl" x="488.13" y="489" text-anchor="middle">70</text>
<text class="tl" x="536.72" y="489" text-anchor="middle">80</text>
<text class="tl" x="585.31" y="489" text-anchor="middle">90</text>
<text class="tl" x="633.9" y="489" text-anchor="middle">100</text>
<text class="tl" x="682.49" y="489" text-anchor="middle">110</text>
<text class="tl" x="41" y="475.1" text-anchor="end">0</text>
<text class="tl" x="41" y="428.8" text-anchor="end">0.1</text>
<text class="tl" x="41" y="382.5" text-anchor="end">0.2</text>
<text class="tl" x="41" y="336.2" text-anchor="end">0.3</text>
<text class="tl" x="41" y="289.9" text-anchor="end">0.4</text>
<text class="tl" x="41" y="243.6" text-anchor="end">0.5</text>
<text class="tl" x="41" y="197.3" text-anchor="end">0.6</text>
<text class="tl" x="41" y="151" text-anchor="end">0.7</text>
<text class="tl" x="41" y="104.7" text-anchor="end">0.8</text>
<text class="tl" x="41" y="58.4" text-anchor="end">0.9</text>
<text class="tl" x="41" y="12.8" text-anchor="end">1</text>
<text class="serif" x="376.6" y="507.7" text-anchor="middle" style="font-size:18px">Time <tspan font-style="italic">t</tspan> [s]</text>
<text class="serif" transform="translate(11.9,238.5) rotate(-90)" x="0" y="0" text-anchor="middle" style="font-size:17.9px">Normalized Perfusion Index</text>
<rect x="52.6" y="12.6" width="197.8" height="59.1" fill="#fff" stroke="#262626" stroke-width="1.1"/>
<rect x="54.3" y="16.7" width="23" height="13.5" fill="#d9d9d9" stroke="#000000" stroke-width="1.1"/>
<line x1="54.3" y1="42.5" x2="77.3" y2="42.5" stroke="#3239ae" stroke-width="1.6"/>
<path d="M63.9 40.6L67.7 44.4M63.9 44.4L67.7 40.6" stroke="#3239ae" stroke-width="1.4"/>
<line x1="54.3" y1="61.4" x2="77.3" y2="61.4" stroke="#e41e14" stroke-width="1.6"/>
<text class="lg" x="79.2" y="29.2">SD(all successful FFCF)</text>
<text class="lg" x="79.2" y="48.1">Avg(all successful FFCF)</text>
<text class="lg" x="79.2" y="66.8">failed FFCF (#8)</text>
</g>
</svg></div></body></html>
